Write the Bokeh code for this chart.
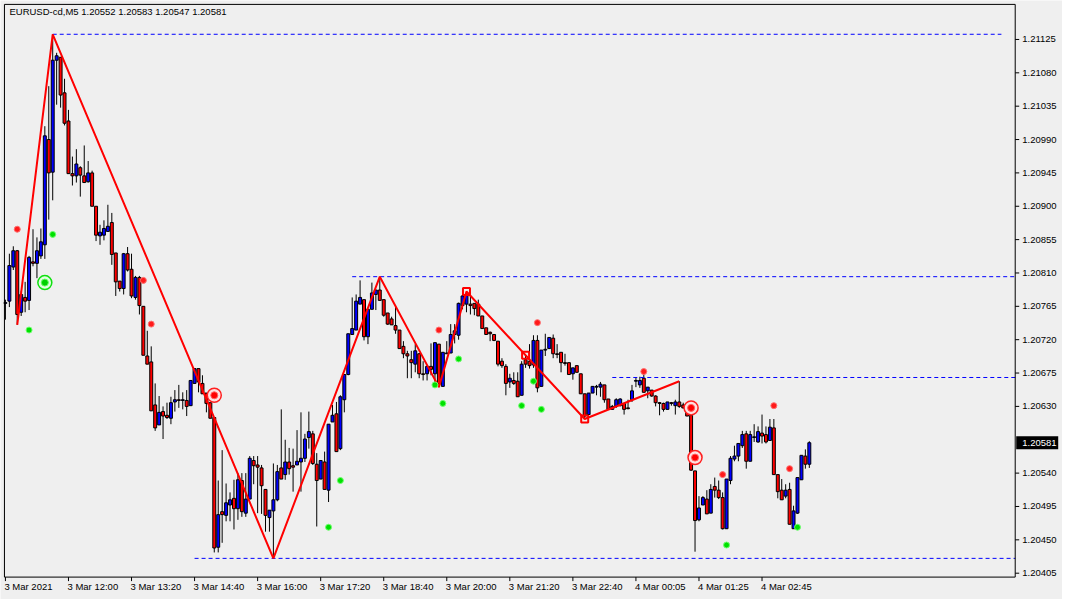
from bokeh.plotting import figure
from bokeh.models import ColumnDataSource, Range1d
from bokeh.core.properties import value
from bokeh.embed import file_html
from bokeh.resources import INLINE

symbol_title = "EURUSD-cd,M5  1.20552 1.20583 1.20547 1.20581"

opens = [
    1.20769, 1.20772, 1.20818, 1.20840, 1.20757, 1.20777, 1.20773, 1.20825, 1.20823, 1.20833,
    1.20848, 1.20990, 1.20946, 1.21097, 1.21101, 1.21053, 1.21015, 1.20944, 1.20941, 1.20952,
    1.20941, 1.20933, 1.20945, 1.20900, 1.20860, 1.20861, 1.20866, 1.20878, 1.20837, 1.20799,
    1.20789, 1.20836, 1.20815, 1.20777, 1.20804, 1.20765, 1.20698, 1.20690, 1.20632, 1.20605,
    1.20623, 1.20618, 1.20614, 1.20636, 1.20639, 1.20638, 1.20638, 1.20631, 1.20661, 1.20681,
    1.20661, 1.20648, 1.20635, 1.20615, 1.20440, 1.20488, 1.20483, 1.20497, 1.20506, 1.20492,
    1.20530, 1.20486, 1.20505, 1.20557, 1.20551, 1.20547, 1.20518, 1.20480, 1.20489, 1.20504,
    1.20547, 1.20538, 1.20555, 1.20550, 1.20551, 1.20555, 1.20560, 1.20588, 1.20593, 1.20552,
    1.20532, 1.20555, 1.20517, 1.20609, 1.20620, 1.20573, 1.20639, 1.20673, 1.20727, 1.20733,
    1.20768, 1.20774, 1.20724, 1.20761, 1.20781, 1.20787, 1.20774, 1.20756, 1.20748, 1.20739,
    1.20733, 1.20711, 1.20701, 1.20693, 1.20687, 1.20701, 1.20674, 1.20674, 1.20684, 1.20674,
    1.20714, 1.20657, 1.20701, 1.20702, 1.20727, 1.20726, 1.20766, 1.20768, 1.20768, 1.20769,
    1.20768, 1.20752, 1.20736, 1.20730, 1.20727, 1.20718, 1.20691, 1.20684, 1.20663, 1.20665,
    1.20664, 1.20645, 1.20693, 1.20691, 1.20686, 1.20719, 1.20657, 1.20706, 1.20708, 1.20722,
    1.20701, 1.20703, 1.20689, 1.20689, 1.20674, 1.20685, 1.20674, 1.20647, 1.20619, 1.20648,
    1.20656, 1.20656, 1.20659, 1.20640, 1.20626, 1.20630, 1.20631, 1.20634, 1.20628, 1.20639,
    1.20664, 1.20659, 1.20668, 1.20651, 1.20652, 1.20644, 1.20635, 1.20634, 1.20626, 1.20635,
    1.20631, 1.20636, 1.20632, 1.20631, 1.20618, 1.20543, 1.20477, 1.20497, 1.20505, 1.20486,
    1.20522, 1.20517, 1.20507, 1.20465, 1.20530, 1.20559, 1.20563, 1.20577, 1.20593, 1.20556,
    1.20588, 1.20582, 1.20594, 1.20592, 1.20584, 1.20601, 1.20538, 1.20517, 1.20509, 1.20518,
    1.20465, 1.20486, 1.20531, 1.20563, 1.20552,
]
highs = [
    1.20774, 1.20836, 1.20846, 1.20841, 1.20786, 1.20798, 1.20833, 1.20869, 1.20858, 1.20870,
    1.21008, 1.21062, 1.21132, 1.21107, 1.21101, 1.21072, 1.21030, 1.20967, 1.20977, 1.20954,
    1.20982, 1.20961, 1.20948, 1.20900, 1.20875, 1.20881, 1.20902, 1.20891, 1.20837, 1.20799,
    1.20837, 1.20845, 1.20836, 1.20806, 1.20806, 1.20765, 1.20732, 1.20711, 1.20661, 1.20644,
    1.20630, 1.20635, 1.20643, 1.20652, 1.20659, 1.20649, 1.20652, 1.20665, 1.20681, 1.20681,
    1.20672, 1.20648, 1.20635, 1.20615, 1.20530, 1.20571, 1.20526, 1.20514, 1.20531, 1.20540,
    1.20540, 1.20540, 1.20563, 1.20563, 1.20563, 1.20551, 1.20518, 1.20490, 1.20553, 1.20551,
    1.20626, 1.20585, 1.20574, 1.20573, 1.20598, 1.20622, 1.20593, 1.20623, 1.20597, 1.20567,
    1.20557, 1.20569, 1.20606, 1.20632, 1.20636, 1.20645, 1.20673, 1.20728, 1.20777, 1.20781,
    1.20800, 1.20774, 1.20761, 1.20797, 1.20787, 1.20805, 1.20774, 1.20756, 1.20751, 1.20766,
    1.20733, 1.20718, 1.20705, 1.20705, 1.20714, 1.20702, 1.20691, 1.20685, 1.20715, 1.20716,
    1.20714, 1.20703, 1.20718, 1.20741, 1.20741, 1.20770, 1.20781, 1.20785, 1.20785, 1.20769,
    1.20774, 1.20752, 1.20736, 1.20731, 1.20727, 1.20718, 1.20695, 1.20687, 1.20674, 1.20676,
    1.20676, 1.20691, 1.20698, 1.20714, 1.20726, 1.20726, 1.20706, 1.20728, 1.20723, 1.20727,
    1.20714, 1.20703, 1.20701, 1.20689, 1.20682, 1.20685, 1.20674, 1.20647, 1.20648, 1.20657,
    1.20659, 1.20663, 1.20659, 1.20640, 1.20632, 1.20641, 1.20641, 1.20634, 1.20639, 1.20659,
    1.20669, 1.20670, 1.20680, 1.20656, 1.20652, 1.20645, 1.20636, 1.20635, 1.20636, 1.20636,
    1.20639, 1.20664, 1.20635, 1.20632, 1.20618, 1.20543, 1.20509, 1.20509, 1.20517, 1.20525,
    1.20534, 1.20530, 1.20514, 1.20532, 1.20563, 1.20577, 1.20580, 1.20597, 1.20597, 1.20597,
    1.20606, 1.20603, 1.20619, 1.20603, 1.20613, 1.20613, 1.20538, 1.20532, 1.20525, 1.20527,
    1.20496, 1.20534, 1.20564, 1.20572, 1.20583,
]
lows = [
    1.20747, 1.20764, 1.20814, 1.20740, 1.20752, 1.20757, 1.20760, 1.20819, 1.20803, 1.20829,
    1.20829, 1.20882, 1.20908, 1.21037, 1.21033, 1.21009, 1.20944, 1.20928, 1.20932, 1.20913,
    1.20932, 1.20932, 1.20900, 1.20853, 1.20848, 1.20854, 1.20866, 1.20821, 1.20779, 1.20785,
    1.20781, 1.20812, 1.20776, 1.20774, 1.20754, 1.20699, 1.20687, 1.20624, 1.20597, 1.20605,
    1.20586, 1.20613, 1.20606, 1.20623, 1.20628, 1.20626, 1.20617, 1.20631, 1.20661, 1.20649,
    1.20647, 1.20622, 1.20614, 1.20433, 1.20433, 1.20446, 1.20475, 1.20475, 1.20464, 1.20477,
    1.20481, 1.20481, 1.20505, 1.20525, 1.20486, 1.20485, 1.20461, 1.20461, 1.20425, 1.20502,
    1.20532, 1.20531, 1.20538, 1.20515, 1.20551, 1.20515, 1.20555, 1.20573, 1.20551, 1.20468,
    1.20532, 1.20518, 1.20501, 1.20609, 1.20569, 1.20571, 1.20622, 1.20672, 1.20727, 1.20733,
    1.20768, 1.20719, 1.20714, 1.20761, 1.20760, 1.20773, 1.20751, 1.20740, 1.20740, 1.20728,
    1.20708, 1.20695, 1.20668, 1.20668, 1.20676, 1.20668, 1.20665, 1.20665, 1.20672, 1.20661,
    1.20656, 1.20657, 1.20701, 1.20702, 1.20715, 1.20720, 1.20761, 1.20757, 1.20754, 1.20753,
    1.20752, 1.20735, 1.20727, 1.20718, 1.20718, 1.20684, 1.20682, 1.20645, 1.20655, 1.20659,
    1.20643, 1.20645, 1.20682, 1.20681, 1.20682, 1.20649, 1.20657, 1.20698, 1.20708, 1.20695,
    1.20695, 1.20676, 1.20685, 1.20673, 1.20666, 1.20676, 1.20647, 1.20613, 1.20619, 1.20648,
    1.20645, 1.20643, 1.20635, 1.20626, 1.20626, 1.20628, 1.20630, 1.20619, 1.20626, 1.20636,
    1.20656, 1.20655, 1.20649, 1.20641, 1.20643, 1.20630, 1.20618, 1.20623, 1.20626, 1.20631,
    1.20619, 1.20628, 1.20627, 1.20617, 1.20543, 1.20434, 1.20475, 1.20497, 1.20485, 1.20486,
    1.20507, 1.20505, 1.20464, 1.20465, 1.20525, 1.20556, 1.20556, 1.20574, 1.20546, 1.20556,
    1.20582, 1.20581, 1.20580, 1.20580, 1.20584, 1.20538, 1.20506, 1.20504, 1.20506, 1.20471,
    1.20465, 1.20485, 1.20531, 1.20546, 1.20547,
]
closes = [
    1.20770, 1.20820, 1.20840, 1.20754, 1.20781, 1.20772, 1.20831, 1.20823, 1.20840, 1.20852,
    1.20995, 1.20945, 1.21097, 1.21103, 1.21050, 1.21012, 1.20944, 1.20941, 1.20957, 1.20942,
    1.20932, 1.20945, 1.20900, 1.20861, 1.20865, 1.20870, 1.20873, 1.20835, 1.20798, 1.20789,
    1.20836, 1.20814, 1.20779, 1.20804, 1.20766, 1.20699, 1.20687, 1.20624, 1.20601, 1.20622,
    1.20617, 1.20615, 1.20635, 1.20639, 1.20638, 1.20639, 1.20630, 1.20665, 1.20681, 1.20663,
    1.20647, 1.20634, 1.20614, 1.20439, 1.20484, 1.20484, 1.20500, 1.20504, 1.20492, 1.20531,
    1.20488, 1.20505, 1.20560, 1.20550, 1.20548, 1.20523, 1.20483, 1.20490, 1.20504, 1.20542,
    1.20532, 1.20555, 1.20546, 1.20548, 1.20556, 1.20560, 1.20586, 1.20596, 1.20553, 1.20530,
    1.20557, 1.20518, 1.20606, 1.20618, 1.20569, 1.20643, 1.20673, 1.20728, 1.20735, 1.20772,
    1.20777, 1.20724, 1.20761, 1.20783, 1.20787, 1.20773, 1.20753, 1.20741, 1.20740, 1.20733,
    1.20708, 1.20701, 1.20698, 1.20689, 1.20705, 1.20674, 1.20673, 1.20684, 1.20680, 1.20716,
    1.20660, 1.20703, 1.20702, 1.20727, 1.20732, 1.20769, 1.20779, 1.20781, 1.20766, 1.20762,
    1.20752, 1.20735, 1.20727, 1.20728, 1.20719, 1.20687, 1.20685, 1.20661, 1.20668, 1.20661,
    1.20643, 1.20687, 1.20687, 1.20685, 1.20719, 1.20655, 1.20706, 1.20707, 1.20723, 1.20701,
    1.20700, 1.20689, 1.20688, 1.20673, 1.20682, 1.20676, 1.20647, 1.20617, 1.20648, 1.20657,
    1.20657, 1.20660, 1.20639, 1.20626, 1.20630, 1.20639, 1.20640, 1.20626, 1.20627, 1.20651,
    1.20665, 1.20665, 1.20649, 1.20656, 1.20644, 1.20635, 1.20634, 1.20626, 1.20636, 1.20634,
    1.20636, 1.20630, 1.20628, 1.20617, 1.20544, 1.20476, 1.20493, 1.20507, 1.20485, 1.20518,
    1.20517, 1.20507, 1.20465, 1.20532, 1.20560, 1.20563, 1.20580, 1.20592, 1.20556, 1.20592,
    1.20589, 1.20596, 1.20590, 1.20582, 1.20602, 1.20538, 1.20515, 1.20504, 1.20517, 1.20471,
    1.20489, 1.20534, 1.20564, 1.20552, 1.20581,
]

# ZigZag turning points (bar index, price)
zz_bars = [3, 12, 68, 95, 110, 117, 147, 171]
zz_prices = [1.20740, 1.21132, 1.20425, 1.20805, 1.20656, 1.20785, 1.20613, 1.20664]

# horizontal levels (price, first bar, last bar)
level_prices = [1.21132, 1.20805, 1.20669, 1.20425]
level_start = [12, 88, 154, 48]
level_end = [252.75, 256.25, 256.25, 256.25]

# signal dots
red_dot_bars = [3, 35, 37, 110, 135, 162, 182, 195, 199]
red_dot_prices = [1.20869, 1.20800, 1.20741, 1.20733, 1.20743, 1.20677, 1.20538, 1.20631, 1.20546]
green_dot_bars = [6, 12, 82, 85, 109, 111, 115, 131, 134, 136, 183, 201]
green_dot_prices = [1.20733, 1.20862, 1.20467, 1.20530, 1.20659, 1.20634, 1.20694, 1.20631,
                    1.20664, 1.20626, 1.20443, 1.20467]

# target markers
green_target_bars = [10]
green_target_prices = [1.20797]
red_target_bars = [53, 174, 175]
red_target_prices = [1.20645, 1.20628, 1.20561]

# square markers
square_bars = [117, 132, 147]
square_prices = [1.20785, 1.20699, 1.20613]

time_tick_bars = [0, 16, 32, 48, 64, 80, 96, 112, 128, 144, 160, 176, 192]
time_tick_labels = ["3 Mar 2021", "3 Mar 12:00", "3 Mar 13:20", "3 Mar 14:40", "3 Mar 16:00",
                    "3 Mar 17:20", "3 Mar 18:40", "3 Mar 20:00", "3 Mar 21:20", "3 Mar 22:40",
                    "4 Mar 00:05", "4 Mar 01:25", "4 Mar 02:45"]
price_ticks = [1.20405, 1.20450, 1.20495, 1.20540, 1.20630, 1.20675, 1.20720, 1.20765,
               1.20810, 1.20855, 1.20900, 1.20945, 1.20990, 1.21035, 1.21080, 1.21125]
price_tick_labels = ["%.5f" % v for v in price_ticks]
current_price = closes[-1]

# ---------------- layout ----------------
W, H = 1062, 599
BG = "#EFEFEF"
FONT = value("Liberation Sans")
FS = value("9.5px")

X0, X1 = -1.25, 268.25            # whole canvas in bar units
Y0, Y1 = 1.2036951, 1.2117756     # whole canvas in price units
def px_x(n):
    return n * (X1 - X0) / W
def px_y(n):
    return n * (Y1 - Y0) / H

# chart box (the MT4 price window)
box_left, box_right = -0.25, 256.25
box_top, box_bottom = 1.2117230, 1.2039973

bars = list(range(len(opens)))
tops = [max(o, c) for o, c in zip(opens, closes)]
bottoms = [min(o, c) for o, c in zip(opens, closes)]
colors = ["#0000FF" if c >= o else "#FF0000" for o, c in zip(opens, closes)]
src = ColumnDataSource(dict(bar=bars, open=opens, high=highs, low=lows, close=closes,
                            top=tops, bottom=bottoms, color=colors))

p = figure(width=W, height=H, output_backend="svg", toolbar_location=None,
           x_range=Range1d(X0, X1), y_range=Range1d(Y0, Y1),
           x_axis_location=None, y_axis_location=None,
           min_border=0, min_border_left=0, min_border_right=0, min_border_top=0, min_border_bottom=0,
           background_fill_color=BG, border_fill_color=BG, outline_line_color=None)
p.grid.visible = False

# candles
p.segment(x0="bar", y0="low", x1="bar", y1="high", line_color="black", line_width=1, source=src)
p.vbar(x="bar", width=0.75, top="top", bottom="bottom", fill_color="color",
       line_color="black", line_width=1, source=src)

# levels
p.segment(x0=level_start, y0=level_prices, x1=level_end, y1=level_prices,
          line_color="#0000FF", line_width=1, line_dash="4 3")

# zigzag
p.line(zz_bars, zz_prices, line_color="#FF0000", line_width=2)
p.scatter(square_bars, square_prices, marker="square", size=7, fill_alpha=0,
          line_color="#FF0000", line_width=2)

# dots
p.scatter(red_dot_bars, red_dot_prices, size=6, fill_color="#FF1A1A", line_color="#FF7070", line_width=1)
p.scatter(green_dot_bars, green_dot_prices, size=6, fill_color="#00E000", line_color="#70FF70", line_width=1)

# targets
p.scatter(red_target_bars, red_target_prices, size=14, fill_color="#FFE0E0",
          line_color="#FF2020", line_width=1.5)
p.scatter(red_target_bars, red_target_prices, size=7, fill_color="#FF0000", line_color="#FF6060", line_width=1)
p.scatter(green_target_bars, green_target_prices, size=14, fill_color="#E0FFE0",
          line_color="#10E010", line_width=1.5)
p.scatter(green_target_bars, green_target_prices, size=7, fill_color="#00D000", line_color="#60FF60", line_width=1)

# chart frame
p.quad(left=[box_left], right=[box_right], top=[box_top], bottom=[box_bottom],
       fill_color=None, line_color="black", line_width=1)

# price scale (right)
n = len(price_ticks)
p.segment(x0=[box_right] * n, y0=price_ticks, x1=[box_right + px_x(4)] * n, y1=price_ticks,
          line_color="black", line_width=1)
p.text(x=[box_right] * n, y=price_ticks, text=price_tick_labels, x_offset=7,
       text_align="left", text_baseline="middle", text_font=FONT, text_font_size=FS,
       text_color="black")

# current price tag
p.quad(left=[box_right + px_x(1)], right=[box_right + px_x(43)],
       top=[current_price + px_y(6.5)], bottom=[current_price - px_y(6.5)],
       fill_color="black", line_color=None)
p.text(x=[box_right], y=[current_price], text=["%.5f" % current_price], x_offset=7,
       text_align="left", text_baseline="middle", text_font=FONT, text_font_size=FS,
       text_color="white")

# time scale (bottom)
m = len(time_tick_bars)
p.segment(x0=time_tick_bars, y0=[box_bottom] * m, x1=time_tick_bars, y1=[box_bottom - px_y(4)] * m,
          line_color="black", line_width=1)
p.text(x=time_tick_bars, y=[box_bottom] * m, text=time_tick_labels, x_offset=-1, y_offset=4,
       text_align="left", text_baseline="top", text_font=FONT, text_font_size=FS,
       text_color="black")

# symbol caption
p.text(x=[box_left], y=[box_top], text=[symbol_title], x_offset=5, y_offset=2,
       text_align="left", text_baseline="top", text_font=FONT, text_font_size=FS,
       text_color="black")

open("out.html", "w").write(file_html(p, INLINE))
